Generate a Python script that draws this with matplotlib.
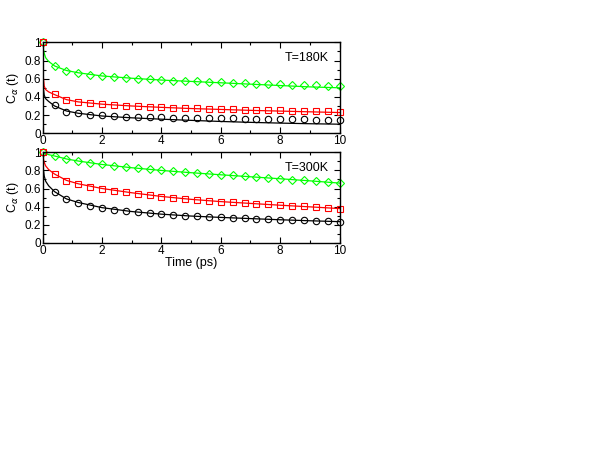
import matplotlib
matplotlib.use("Agg")
import matplotlib.pyplot as plt
from matplotlib.ticker import MultipleLocator

plt.rcParams["font.family"] = ["Liberation Sans", "DejaVu Sans"]

# marker times (ps)
t_pts = [0.0, 0.4, 0.8, 1.2, 1.6, 2.0, 2.4, 2.8, 3.2, 3.6, 4.0, 4.4, 4.8,
         5.2, 5.6, 6.0, 6.4, 6.8, 7.2, 7.6, 8.0, 8.4, 8.8, 9.2, 9.6, 10.0]

# T = 180K data
green_180 = [1.0, 0.74, 0.69, 0.66, 0.645, 0.63, 0.62, 0.61, 0.60, 0.595, 0.59, 0.58, 0.575,
             0.57, 0.565, 0.56, 0.555, 0.55, 0.545, 0.54, 0.54, 0.535, 0.53, 0.53, 0.525, 0.515]
red_180 = [1.0, 0.43, 0.366, 0.344, 0.333, 0.322, 0.315, 0.304, 0.297, 0.292, 0.288, 0.283, 0.279,
           0.275, 0.271, 0.267, 0.264, 0.261, 0.258, 0.255, 0.252, 0.249, 0.246, 0.243, 0.241, 0.238]
black_180 = [1.0, 0.31, 0.235, 0.22, 0.205, 0.198, 0.188, 0.184, 0.181, 0.178, 0.176, 0.173, 0.171,
             0.169, 0.167, 0.165, 0.163, 0.161, 0.159, 0.157, 0.156, 0.154, 0.152, 0.151, 0.149, 0.147]

# T = 300K data
green_300 = [1.0, 0.96, 0.926, 0.904, 0.886, 0.867, 0.852, 0.841, 0.827, 0.812, 0.80, 0.79, 0.779,
             0.77, 0.76, 0.753, 0.745, 0.734, 0.727, 0.716, 0.708, 0.697, 0.69, 0.683, 0.672, 0.657]
red_300 = [1.0, 0.756, 0.686, 0.65, 0.62, 0.598, 0.576, 0.557, 0.539, 0.524, 0.509, 0.494, 0.483,
           0.472, 0.461, 0.454, 0.446, 0.439, 0.432, 0.424, 0.417, 0.41, 0.402, 0.395, 0.384, 0.373]
black_300 = [1.0, 0.56, 0.483, 0.443, 0.41, 0.384, 0.365, 0.35, 0.336, 0.325, 0.317, 0.306, 0.299,
             0.292, 0.288, 0.28, 0.273, 0.27, 0.266, 0.258, 0.255, 0.251, 0.247, 0.244, 0.236, 0.232]

# fitted curves
t_fit = [0.0, 0.02, 0.05, 0.1, 0.2, 0.4, 0.8, 1.2, 2.0, 3.0, 4.0, 5.0, 6.0, 7.0, 8.0, 9.0, 10.0]
green_fit_180 = [1.0, 0.93, 0.88, 0.83, 0.79, 0.74, 0.69, 0.665, 0.63, 0.605, 0.585, 0.57, 0.555,
                 0.54, 0.525, 0.51, 0.50]
red_fit_180 = [1.0, 0.62, 0.52, 0.48, 0.455, 0.425, 0.37, 0.345, 0.32, 0.3, 0.285, 0.272, 0.262,
               0.252, 0.244, 0.236, 0.228]
black_fit_180 = [1.0, 0.5, 0.42, 0.38, 0.35, 0.30, 0.245, 0.22, 0.19, 0.17, 0.155, 0.142, 0.13,
                 0.12, 0.112, 0.105, 0.10]
green_fit_300 = [1.0, 0.995, 0.99, 0.985, 0.975, 0.96, 0.927, 0.904, 0.866, 0.83, 0.80, 0.775,
                 0.752, 0.73, 0.708, 0.685, 0.66]
red_fit_300 = [1.0, 0.93, 0.89, 0.85, 0.81, 0.76, 0.69, 0.652, 0.6, 0.553, 0.512, 0.48, 0.455,
               0.435, 0.415, 0.397, 0.378]
black_fit_300 = [1.0, 0.82, 0.74, 0.68, 0.63, 0.565, 0.485, 0.445, 0.388, 0.345, 0.316, 0.295,
                 0.28, 0.267, 0.254, 0.243, 0.233]

labels = ["T=180K", "T=300K"]

fig = plt.figure(figsize=(6.05, 4.68), dpi=100)
ax1 = fig.add_axes([0.0706, 0.7152, 0.4906, 0.1944])
ax2 = fig.add_axes([0.0706, 0.4814, 0.4906, 0.1930])

panels = [
    (ax1, green_180, red_180, black_180, green_fit_180, red_fit_180, black_fit_180),
    (ax2, green_300, red_300, black_300, green_fit_300, red_fit_300, black_fit_300),
]

for i, (ax, g, r, b, gf, rf, bf) in enumerate(panels):
    ax.plot(t_fit, bf, color="black", lw=0.9)
    ax.plot(t_fit, rf, color="#ff0000", lw=0.9)
    ax.plot(t_fit, gf, color="#00ff00", lw=0.9)
    ax.plot(t_pts, b, "o", mfc="none", mec="black", ms=4.6, mew=0.8, clip_on=False)
    ax.plot(t_pts, g, "D", mfc="none", mec="#00ff00", ms=3.6, mew=0.8, clip_on=False)
    ax.plot(t_pts, r, "s", mfc="none", mec="#ff0000", ms=3.8, mew=0.8, clip_on=False)

    ax.set_xlim(0, 10)
    ax.set_ylim(0, 1)
    ax.xaxis.set_major_locator(MultipleLocator(2))
    ax.xaxis.set_minor_locator(MultipleLocator(1))
    ax.yaxis.set_major_locator(MultipleLocator(0.2))
    ax.yaxis.set_minor_locator(MultipleLocator(0.1))
    ax.set_yticks([0, 0.2, 0.4, 0.6, 0.8, 1.0])
    ax.set_yticklabels(["0", "0.2", "0.4", "0.6", "0.8", "1"])
    ax.tick_params(which="both", direction="in", top=True, right=True, labelsize=8.5, pad=1.5)
    ax.tick_params(which="major", length=4, width=0.8)
    ax.tick_params(which="minor", length=2, width=0.8)
    for s in ax.spines.values():
        s.set_linewidth(1.0)
    ax.set_ylabel(r"C$_\alpha$ (t)", fontsize=9, labelpad=2)
    ax.text(0.965, 0.83, labels[i], transform=ax.transAxes, ha="right", va="center", fontsize=9)

ax2.set_xlabel("Time (ps)", fontsize=9, labelpad=0)

fig.savefig("out.png", dpi=100)
